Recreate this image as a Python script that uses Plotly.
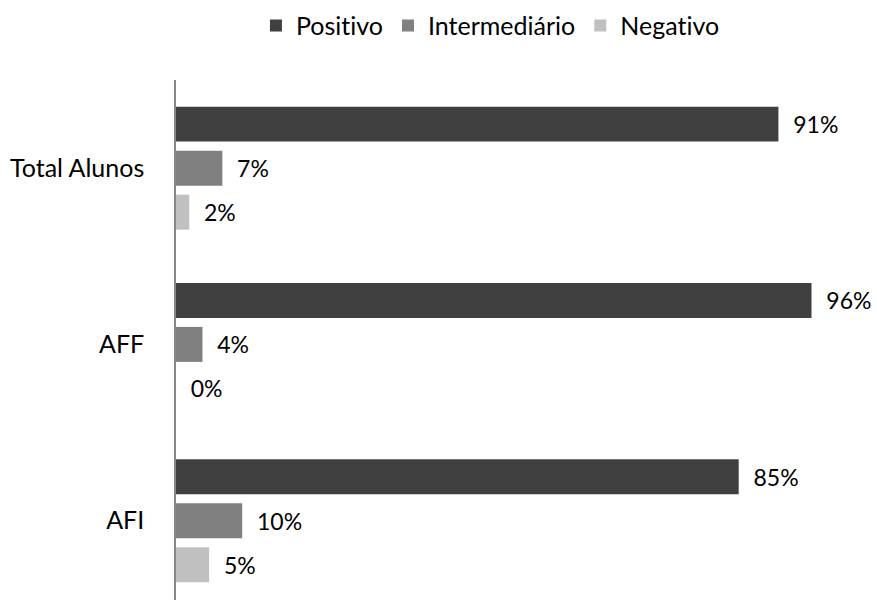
import plotly.graph_objects as go

categories = ["Total Alunos", "AFF", "AFI"]
series_names = ["Posit\u200civo", "Intermediário", "Negat\u200civo"]
positivo = [0.91, 0.96, 0.85]
intermediario = [0.07, 0.04, 0.10]
negativo = [0.02, 0.00, 0.05]
colors = ["#404040", "#808080", "#c0c0c0"]

FONT = "Lato"
fig = go.Figure()
for name, vals, col in zip(series_names, [positivo, intermediario, negativo], colors):
    fig.add_trace(go.Bar(
        y=categories, x=vals, name=name, orientation="h",
        marker=dict(color=col, line=dict(width=0)),
        text=["\u00a0\u00a0" + f"{round(v*100)}%" for v in vals],
        textposition="outside", cliponaxis=False,
        textfont=dict(family=FONT, size=23, color="#000000"),
    ))

fig.update_layout(
    width=877, height=600,
    margin=dict(l=176, r=39, t=80, b=0),
    paper_bgcolor="white", plot_bgcolor="white",
    barmode="group", bargap=0.251, bargroupgap=0.205,
    font=dict(family=FONT, size=25, color="#000000"),
    showlegend=True,
    legend=dict(orientation="h", x=0.475, xanchor="center", y=1.06, yanchor="bottom",
                font=dict(family=FONT, size=25)),
    xaxis=dict(range=[0, 1], showgrid=False, showticklabels=False, zeroline=False,
               showline=False, ticks=""),
    yaxis=dict(type="category", categoryorder="array", categoryarray=categories,
               range=[2.45, -0.5], showgrid=False, zeroline=False,
               showline=True, linecolor="#868686", linewidth=1.5,
               ticks="", ticklabelstandoff=25,
               tickfont=dict(family=FONT, size=25, color="#000000")),
)
fig.write_html("out.html")
